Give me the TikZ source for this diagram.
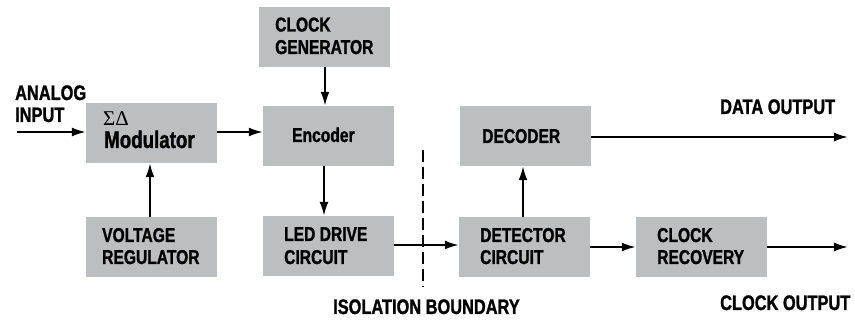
\documentclass[tikz,border=0pt]{standalone}
\usepackage{fontspec}
\usetikzlibrary{arrows.meta}
\newfontfamily\condfont[FakeStretch=0.78,FakeBold=1.2]{Liberation Sans}
\newfontfamily\greekfont{Liberation Serif}
\definecolor{boxgray}{RGB}{189,190,192}
\begin{document}
\begin{tikzpicture}[x=1pt,y=-1pt,
  box/.style={draw=none,fill=boxgray,minimum width=131pt,minimum height=60pt,inner sep=0pt},
  lbl/.style={anchor=base west,inner sep=0pt,font=\condfont\bfseries\fontsize{20}{22}\selectfont},
  outlbl/.style={anchor=base west,inner sep=0pt,font=\condfont\bfseries\fontsize{21}{22}\selectfont},
  big/.style={anchor=base west,inner sep=0pt,font=\condfont\bfseries\fontsize{24}{28}\selectfont},
  greek/.style={anchor=base west,inner sep=0pt,font=\greekfont\fontsize{21}{22}\selectfont},
  wire/.style={line width=2pt},
  arr/.style={wire,-{Latex[length=14pt,width=9pt]}},
  bound/.style={line width=2.4pt,dash pattern=on 12pt off 5pt}]
\useasboundingbox (0,0) rectangle (855,320);
% boxes
\node[box] (mod) at (151.5,133) {};
\node[box] (cg)  at (324.5,37) {};
\node[box] (enc) at (328.5,136) {};
\node[box] (vr)  at (151.5,247) {};
\node[box] (led) at (328.5,246) {};
\node[box] (dec) at (525.5,136) {};
\node[box] (det) at (524.5,247) {};
\node[box] (cr)  at (701.5,247) {};
% texts
\node[greek] (t1) at (103,126) {ΣΔ};
\node[big] (t2) at (104,148) {Modulator};
\node[lbl] (t3) at (275,31.5) {CLOCK};
\node[lbl] (t4) at (275,54) {GENERATOR};
\node[lbl] (t5) at (292,142) {Encoder};
\node[lbl] (t6) at (102,242) {VOLTAGE};
\node[lbl] (t7) at (102,264) {REGULATOR};
\node[lbl] (t8) at (284,241) {LED DRIVE};
\node[lbl] (t9) at (284,264) {CIRCUIT};
\node[lbl] (t10) at (482,143) {DECODER};
\node[lbl] (t11) at (480,242) {DETECTOR};
\node[lbl] (t12) at (480,264) {CIRCUIT};
\node[lbl] (t13) at (657,242) {CLOCK};
\node[lbl] (t14) at (657,264) {RECOVERY};
\node[outlbl] (t15) at (15,100) {ANALOG};
\node[outlbl] (t16) at (15,122) {INPUT};
\node[outlbl] (t17) at (720,114) {DATA OUTPUT};
\node[outlbl] (t18) at (720,310) {CLOCK OUTPUT};
\node[outlbl] (t19) at (333,314) {ISOLATION BOUNDARY};
% coordinates
\coordinate (ain) at (17,132);
\coordinate (dout) at (848,137);
\coordinate (cout) at (848,247);
\coordinate (bt) at (423,150);
\coordinate (bb) at (423,287);
% connectors
\draw[arr] (ain) -- (ain -| mod.west);
\draw[arr] (mod.east |- 0,132) -- (enc.west |- 0,132);
\draw[arr] (vr.north -| 150,0) -- (mod.south -| 150,0);
\draw[arr] (cg.south -| 325,0) -- (enc.north -| 325,0);
\draw[arr] (enc.south -| 324,0) -- (led.north -| 324,0);
\draw[arr] (led.east |- 0,245) -- (det.west |- 0,245);
\draw[arr] (det.north -| 523,0) -- (dec.south -| 523,0);
\draw[arr] (det.east) -- (cr.west);
\draw[arr] (dec.east |- dout) -- (dout);
\draw[arr] (cr.east) -- (cout);
\draw[bound] (bt) -- (bb);
\end{tikzpicture}
\end{document}
